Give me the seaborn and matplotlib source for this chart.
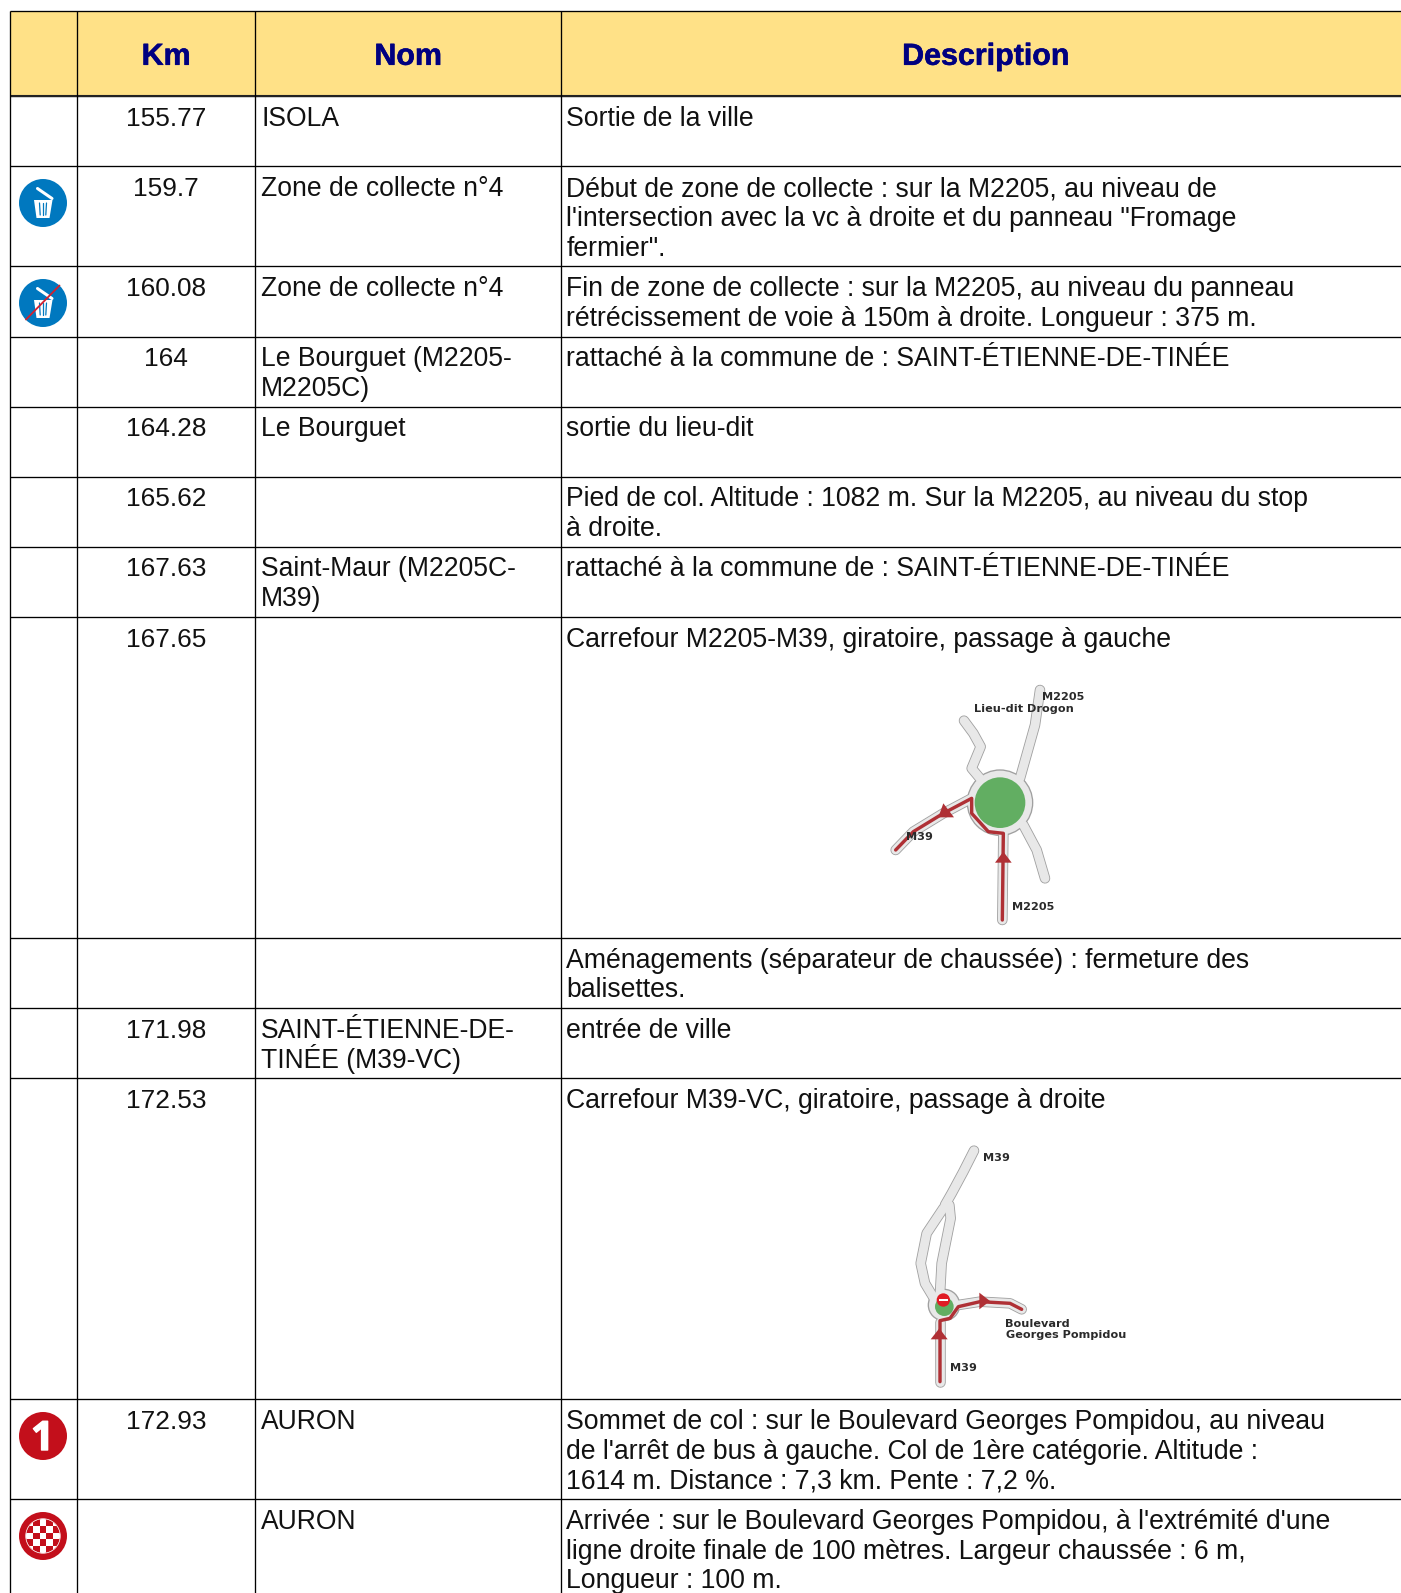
import matplotlib
matplotlib.use("Agg")
import matplotlib.pyplot as plt
import matplotlib.patheffects as pe
from matplotlib.patches import Circle, Polygon, Rectangle
import numpy as np
import pandas as pd
import seaborn as sns

# Table content
headers = ["", "Km", "Nom", "Description"]
km = ["155.77", "159.7", "160.08", "164", "164.28", "165.62", "167.63", "167.65", "",
      "171.98", "172.53", "172.93", ""]
nom = ["ISOLA", "Zone de collecte n°4", "Zone de collecte n°4", "Le Bourguet (M2205-\nM2205C)",
       "Le Bourguet", "", "Saint-Maur (M2205C-\nM39)", "", "", "SAINT-ÉTIENNE-DE-\nTINÉE (M39-VC)",
       "", "AURON", "AURON"]
description = [
    "Sortie de la ville",
    "Début de zone de collecte : sur la M2205, au niveau de\nl'intersection avec la vc à droite et du panneau \"Fromage\nfermier\".",
    "Fin de zone de collecte : sur la M2205, au niveau du panneau\nrétrécissement de voie à 150m à droite. Longueur : 375 m.",
    "rattaché à la commune de : SAINT-ÉTIENNE-DE-TINÉE",
    "sortie du lieu-dit",
    "Pied de col. Altitude : 1082 m. Sur la M2205, au niveau du stop\nà droite.",
    "rattaché à la commune de : SAINT-ÉTIENNE-DE-TINÉE",
    "Carrefour M2205-M39, giratoire, passage à gauche",
    "Aménagements (séparateur de chaussée) : fermeture des\nbalisettes.",
    "entrée de ville",
    "Carrefour M39-VC, giratoire, passage à droite",
    "Sommet de col : sur le Boulevard Georges Pompidou, au niveau\nde l'arrêt de bus à gauche. Col de 1ère catégorie. Altitude :\n1614 m. Distance : 7,3 km. Pente : 7,2 %.",
    "Arrivée : sur le Boulevard Georges Pompidou, à l'extrémité d'une\nligne droite finale de 100 mètres. Largeur chaussée : 6 m,\nLongueur : 100 m.",
]
icons = {1: "trash", 2: "trash_off", 11: "climb", 12: "finish"}

# Layout in pixels
col_edges = [10, 77.3, 255, 561]
row_edges = [11, 96, 166, 266.3, 336.7, 407, 476.5, 546.5, 617, 938, 1008, 1078, 1399, 1498.7]
text_offset = [30, 30, 30, 29, 29, 30, 30, 30, 29.5, 30, 30, 30, 30]

# First crossroads sketch
map1_origin = (860, 670)
map1_north = ([480, 525, 540], [325, 165, 60])
map1_lieu = ([360, 335, 362, 340, 312], [325, 295, 230, 190, 152])
map1_south = ([490, 530, 555], [465, 540, 625])
map1_west = ([335, 250, 160, 107], [385, 430, 485, 540])
map1_route = ([427, 430, 385, 335, 335, 250, 160, 107], [750, 490, 485, 430, 385, 430, 485, 540])
map1_entry = ([427, 430], [750, 490])
map1_arrows = [[(430, 545), (405, 578), (455, 578)], [(250, 400), (282, 442), (235, 442)]]

# Second crossroads sketch
map2_origin = (880, 1130)
map2_north = ([282, 250, 215, 195], [62, 125, 190, 225])
map2_east = ([208, 212, 185, 180], [225, 265, 400, 490])
map2_west = ([190, 140, 122, 135, 165], [235, 310, 400, 460, 510])
map2_exit = ([235, 300, 390, 425], [525, 515, 520, 538])
map2_entry = ([180, 180], [755, 575])
map2_route = ([180, 180, 210, 235, 300, 390, 425], [755, 572, 565, 530, 515, 520, 538])
map2_arrows = [[(178, 595), (152, 628), (203, 628)], [(298, 488), (298, 538), (330, 513)]]

sns.set_theme(style="white")
plt.rcParams["font.family"] = ["Liberation Sans", "DejaVu Sans"]

fig = plt.figure(figsize=(14.01, 15.93), dpi=100)
ax = fig.add_axes([0, 0, 1, 1])
ax.set_xlim(0, 1401)
ax.set_ylim(1593, 0)
ax.axis("off")

# Header band and grid
ax.add_patch(Rectangle((10, 11), 1391, 85, color="#FFE187", lw=0, zorder=0))
ax.hlines(row_edges, 10, 1401, color="black", lw=0.95, zorder=2)
ax.hlines(96, 10, 1401, color="#222222", lw=1.5, zorder=2)
ax.vlines(col_edges, 11, 1593, color="black", lw=0.95, zorder=2)

centers = [43.6, 166, 408, 985.5]
for x, label in zip(centers, headers):
    ax.text(x, 64.8, label, ha="center", va="baseline", fontsize=21.9, fontweight="bold",
            color="#000080", path_effects=[pe.withStroke(linewidth=0.4, foreground="#000080")])

LINE_H = 29.9
for i in range(len(km)):
    base = row_edges[i + 1] + text_offset[i]
    ax.text(centers[1], base, km[i], ha="center", va="baseline", fontsize=18.9, color="#111111")
    for j, line in enumerate(nom[i].split("\n")):
        ax.text(261, base + j * LINE_H, line, ha="left", va="baseline", fontsize=19.1, color="#111111")
    for j, line in enumerate(description[i].split("\n")):
        ax.text(566.5, base + j * LINE_H, line, ha="left", va="baseline", fontsize=19.2, color="#111111")


def draw_trash(cx, cy):
    # lid, then bin with its stripes
    ax.plot([cx - 5.5, cx + 9], [cy - 14.5, cy - 4.5], color="white", lw=2.2, zorder=4)
    ax.add_patch(Polygon([(cx - 9, cy - 3), (cx + 9.5, cy - 3), (cx + 6.5, cy + 15), (cx - 6.5, cy + 15)],
                         color="white", lw=0, zorder=4))
    for dx in [-3.5, 0, 3.5]:
        ax.plot([cx + dx, cx + dx * 0.8], [cy, cy + 12], color="#0078BF", lw=0.9, zorder=5)


def draw_icon(kind, cx, cy):
    color = "#0078BF" if kind.startswith("trash") else "#C30F1B"
    ax.add_patch(Circle((cx, cy), 24, color=color, lw=0, zorder=3))
    if kind.startswith("trash"):
        draw_trash(cx, cy)
    if kind == "trash_off":
        ax.plot([cx - 17, cx + 16.5], [cy + 16.5, cy - 17.5], color="#D2202F", lw=1.3, zorder=6)
    if kind == "climb":
        ax.text(cx - 0.5, cy + 14, "1", ha="center", va="baseline", fontsize=29, fontweight="bold",
                family="Open Sans", color="white", zorder=4,
                path_effects=[pe.withStroke(linewidth=1, foreground="white")])
    if kind == "finish":
        disc = Circle((cx, cy), 17, facecolor="white", edgecolor="white", lw=0, zorder=4)
        ax.add_patch(disc)
        size = 6.8
        for a in range(-2, 3):
            for b in range(-2, 3):
                if (a + b) % 2:
                    sq = Rectangle((cx + a * size - size / 2, cy + b * size - size / 2), size, size,
                                   color=color, lw=0, zorder=5)
                    ax.add_patch(sq)
                    sq.set_clip_path(disc)
        ax.add_patch(Circle((cx, cy), 17.3, fill=False, edgecolor="white", lw=0.5, zorder=6))


for row, kind in icons.items():
    cy = {1: 203, 2: 303, 11: 1436, 12: 1536}[row]
    draw_icon(kind, 43, cy)


def road(origin, xs, ys, color, width, z):
    # sketch coordinates are in 3x crop pixels
    df = pd.DataFrame({"x": origin[0] + np.array(xs) / 3, "y": origin[1] + np.array(ys) / 3})
    sns.lineplot(data=df, x="x", y="y", sort=False, estimator=None, color=color, lw=width * 0.72,
                 solid_capstyle="round", solid_joinstyle="round", legend=False, ax=ax, zorder=z)


def sketch_circle(origin, x, y, r, color, z):
    ax.add_patch(Circle((origin[0] + x / 3, origin[1] + y / 3), r / 3, color=color, lw=0, zorder=z))


def arrows(origin, tris):
    for tri in tris:
        pts = [(origin[0] + p[0] / 3, origin[1] + p[1] / 3) for p in tri]
        ax.add_patch(Polygon(pts, color="#AF3035", lw=0, zorder=8))


ROAD_EDGE = "#A0A0A0"
ROAD_FILL = "#E8E8E8"
ROUTE = "#AF3035"

# First sketch
paths = [map1_north, map1_lieu, map1_south, map1_west, map1_entry]
for xs, ys in paths:
    road(map1_origin, xs, ys, ROAD_EDGE, 10.5, 3)
sketch_circle(map1_origin, 420, 398, 100, ROAD_EDGE, 3)
for xs, ys in paths:
    road(map1_origin, xs, ys, ROAD_FILL, 8.8, 4)
sketch_circle(map1_origin, 420, 398, 96, ROAD_FILL, 4)
sketch_circle(map1_origin, 420, 398, 76, "#62AE62", 5)
road(map1_origin, map1_route[0], map1_route[1], ROUTE, 3.4, 7)
arrows(map1_origin, map1_arrows)

# Second sketch
paths = [map2_north, map2_east, map2_west, map2_exit, map2_entry]
for xs, ys in paths:
    road(map2_origin, xs, ys, ROAD_EDGE, 10.5, 3)
sketch_circle(map2_origin, 192, 525, 49, ROAD_EDGE, 3)
for xs, ys in paths:
    road(map2_origin, xs, ys, ROAD_FILL, 8.8, 4)
sketch_circle(map2_origin, 192, 525, 45, ROAD_FILL, 4)
sketch_circle(map2_origin, 193, 530, 28, "#62AE62", 5)
road(map2_origin, map2_route[0], map2_route[1], ROUTE, 3.4, 7)
arrows(map2_origin, map2_arrows)
sketch_circle(map2_origin, 190, 510, 20, "#E01B24", 8)
ax.add_patch(Rectangle((map2_origin[0] + 176 / 3, map2_origin[1] + 506 / 3), 28 / 3, 8 / 3,
                       color="white", lw=0, zorder=9))

# Sketch labels
map_labels = [
    (1042, 700.5, "M2205"), (974.5, 711.5, "Lieu-dit Drogon"), (906, 840.5, "M39"), (1012, 910, "M2205"),
    (983.5, 1161, "M39"), (1005.5, 1327, "Boulevard"), (1005.5, 1338, "Georges Pompidou"), (950, 1371, "M39"),
]
for x, y, label in map_labels:
    ax.text(x, y, label, ha="left", va="baseline", fontsize=8.1, fontweight="bold",
            family="DejaVu Sans", color="#2A2A2A", zorder=10)

fig.savefig("out.png", dpi=100)
plt.close(fig)
